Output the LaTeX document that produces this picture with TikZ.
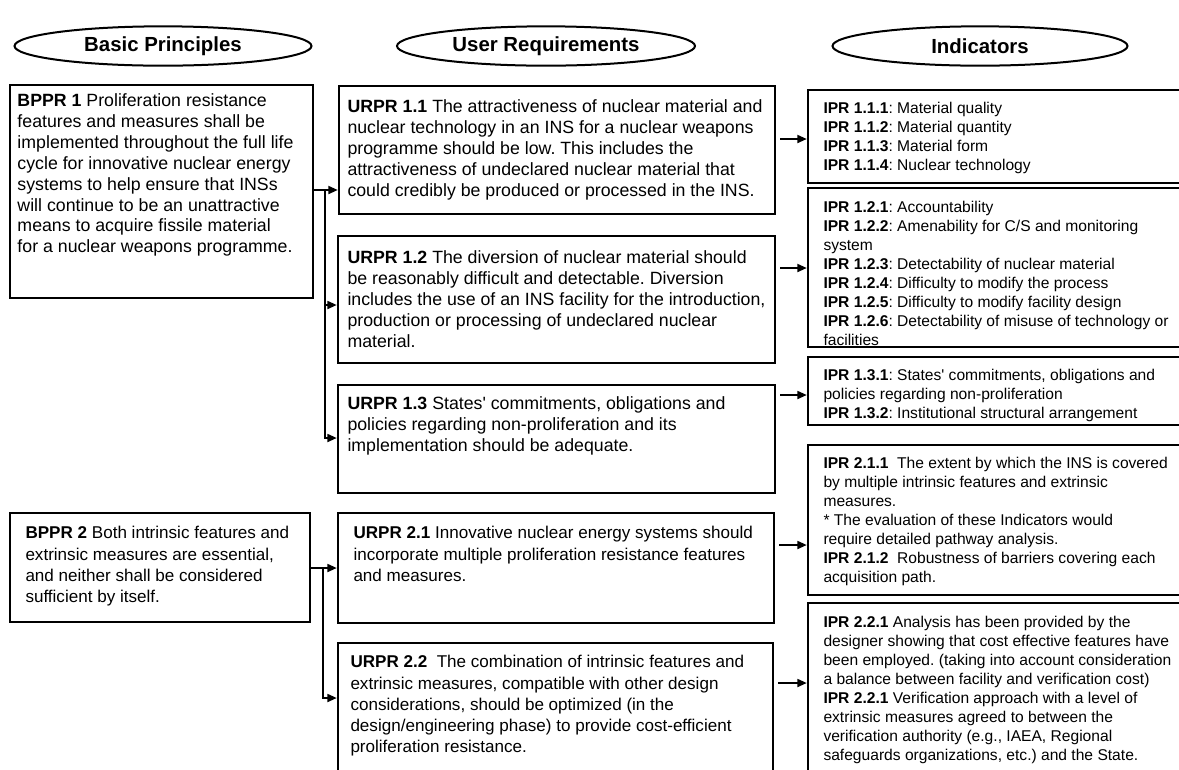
\documentclass[tikz,border=0pt]{standalone}
\usepackage{fontspec}
\setmainfont{Liberation Sans}
\usetikzlibrary{shapes.geometric,arrows.meta,fit}
\frenchspacing

\tikzset{every picture/.style={line width=0.75pt}}
\tikzset{
	hdr/.style={draw, ellipse, line width=1.5pt, inner sep=0pt, minimum width=#1*0.75pt, minimum height=29.5pt, font=\fontsize{15.3}{18}\selectfont\bfseries},
	frame/.style={draw, line width=1.9pt, inner sep=0pt},
	maintext/.style={anchor=north west, inner sep=0pt, align=left, font=\fontsize{13.3}{15.7}\selectfont},
	lowtext/.style={anchor=north west, inner sep=0pt, align=left, font=\fontsize{12.8}{15.9}\selectfont},
	iprtext/.style={anchor=north west, inner sep=0pt, align=left, font=\fontsize{11.7}{14.2}\selectfont},
	link/.style={line width=1.3pt},
	arr/.style={link, -{Triangle[length=7pt,width=6pt]}},
}

\begin{document}
\begin{tikzpicture}[x=0.75pt,y=0.75pt,yscale=-1,xscale=1]
	\useasboundingbox (0,0) rectangle (1179,769);
	\clip (0,0) rectangle (1179,769);

	%Shape: Ellipse [headings]
	\node[hdr=297] (basic) at (163,46) {Basic Principles};
	\node[hdr=298] (user) at (546,46) {User Requirements};
	\node[hdr=295] (indic) at (980,46) {Indicators};

	%Shape: Rectangle [basic principles]
	\node[frame, fit={(10,85) (313,298)}] (bp1) {};
	\node[frame, fit={(10,513) (310,622)}] (bp2) {};
	%Shape: Rectangle [user requirements]
	\node[frame, fit={(339,86) (775,214)}] (ur11) {};
	\node[frame, fit={(338,236) (775,363)}] (ur12) {};
	\node[frame, fit={(338,385) (775,493)}] (ur13) {};
	\node[frame, fit={(338,513) (774,623)}] (ur21) {};
	\node[frame, fit={(338,643) (773,790)}] (ur22) {};
	%Shape: Rectangle [indicators]
	\node[frame, fit={(808,90) (1190,183)}] (ip11) {};
	\node[frame, fit={(808,188) (1190,347)}] (ip12) {};
	\node[frame, fit={(808,357) (1190,425)}] (ip13) {};
	\node[frame, fit={(808,445) (1190,595)}] (ip21) {};
	\node[frame, fit={(808,603) (1190,790)}] (ip22) {};

	% Text Node
	\node[maintext] (bp1t) at (17,93) {\textbf{BPPR 1} Proliferation resistance\\features and measures shall be\\implemented throughout the full life\\cycle for innovative nuclear energy\\systems to help ensure that INSs\\will continue to be an unattractive\\means to acquire fissile material\\for a nuclear weapons programme.};
	% Text Node
	\node[maintext] (ur11t) at (347,99) {\textbf{URPR 1.1} The attractiveness of nuclear material and\\nuclear technology in an INS for a nuclear weapons\\programme should be low. This includes the\\attractiveness of undeclared nuclear material that\\could credibly be produced or processed in the INS.};
	% Text Node
	\node[maintext] (ur12t) at (347,250) {\textbf{URPR 1.2} The diversion of nuclear material should\\be reasonably difficult and detectable. Diversion\\includes the use of an INS facility for the introduction,\\production or processing of undeclared nuclear\\material.};
	% Text Node
	\node[maintext] (ur13t) at (347,396) {\textbf{URPR 1.3} States\textquotesingle{} commitments, obligations and\\policies regarding non-proliferation and its\\implementation should be adequate.};
	% Text Node
	\node[lowtext] (bp2t) at (25,526) {\textbf{BPPR 2} Both intrinsic features and\\extrinsic measures are essential,\\and neither shall be considered\\sufficient by itself.};
	% Text Node
	\node[lowtext] (ur21t) at (353,526) {\textbf{URPR 2.1} Innovative nuclear energy systems should\\incorporate multiple proliferation resistance features\\and measures.};
	% Text Node
	\node[lowtext] (ur22t) at (350,655) {\textbf{URPR 2.2}\ \ The combination of intrinsic features and\\extrinsic measures, compatible with other design\\considerations, should be optimized (in the\\design/engineering phase) to provide cost-efficient\\proliferation resistance.};

	% Text Node
	\node[iprtext] (ip11t) at (823,102) {\textbf{IPR 1.1.1}: Material quality\\\textbf{IPR 1.1.2}: Material quantity\\\textbf{IPR 1.1.3}: Material form\\\textbf{IPR 1.1.4}: Nuclear technology};
	% Text Node
	\node[iprtext] (ip12t) at (823,201) {\textbf{IPR 1.2.1}: Accountability\\\textbf{IPR 1.2.2}: Amenability for C/S and monitoring\\system\\\textbf{IPR 1.2.3}: Detectability of nuclear material\\\textbf{IPR 1.2.4}: Difficulty to modify the process\\\textbf{IPR 1.2.5}: Difficulty to modify facility design\\\textbf{IPR 1.2.6}: Detectability of misuse of technology or\\facilities};
	% Text Node
	\node[iprtext] (ip13t) at (823,369) {\textbf{IPR 1.3.1}: States\textquotesingle{} commitments, obligations and\\policies regarding non-proliferation\\\textbf{IPR 1.3.2}: Institutional structural arrangement};
	% Text Node
	\node[iprtext] (ip21t) at (823,457) {\textbf{IPR 2.1.1}\ \ The extent by which the INS is covered\\by multiple intrinsic features and extrinsic\\measures.\\* The evaluation of these Indicators would\\require detailed pathway analysis.\\\textbf{IPR 2.1.2}\ \ Robustness of barriers covering each\\acquisition path.};
	% Text Node
	\node[iprtext] (ip22t) at (823,616) {\textbf{IPR 2.2.1} Analysis has been provided by the\\designer showing that cost effective features have\\been employed. (taking into account consideration\\a balance between facility and verification cost)\\\textbf{IPR 2.2.1} Verification approach with a level of\\extrinsic measures agreed to between the\\verification authority (e.g., IAEA, Regional\\safeguards organizations, etc.) and the State.};

	%Straight Lines [BPPR 1 to URPR 1.x]
	\coordinate (j1) at (325,190);
	\coordinate (a12) at (325,305);
	\coordinate (a13) at (325,438);
	\draw[link] (bp1.east |- j1) -- (j1);
	\draw[arr] (j1) -- (ur11.west |- j1);
	\draw[arr] (a12) -- (ur12.west |- a12);
	\draw[arr] (j1) |- (ur13.west |- a13);
	%Straight Lines [BPPR 2 to URPR 2.x]
	\coordinate (j2) at (323,568);
	\coordinate (a22) at (323,698);
	\draw[link] (bp2.east |- j2) -- (j2);
	\draw[arr] (j2) -- (ur21.west |- j2);
	\draw[arr] (j2) |- (ur22.west |- a22);
	%Straight Lines [URPR to IPR]
	\draw[arr, shorten <=3pt] (ur11.east |- 0,139) -- (ip11.west |- 0,139);
	\draw[arr, shorten <=3pt] (ur12.east |- 0,268) -- (ip12.west |- 0,268);
	\draw[arr, shorten <=3pt] (ur13.east |- 0,395) -- (ip13.west |- 0,395);
	\draw[arr, shorten <=3pt] (ur21.east |- 0,545) -- (ip21.west |- 0,545);
	\draw[arr, shorten <=3pt] (ur22.east |- 0,683) -- (ip22.west |- 0,683);

\end{tikzpicture}
\end{document}
